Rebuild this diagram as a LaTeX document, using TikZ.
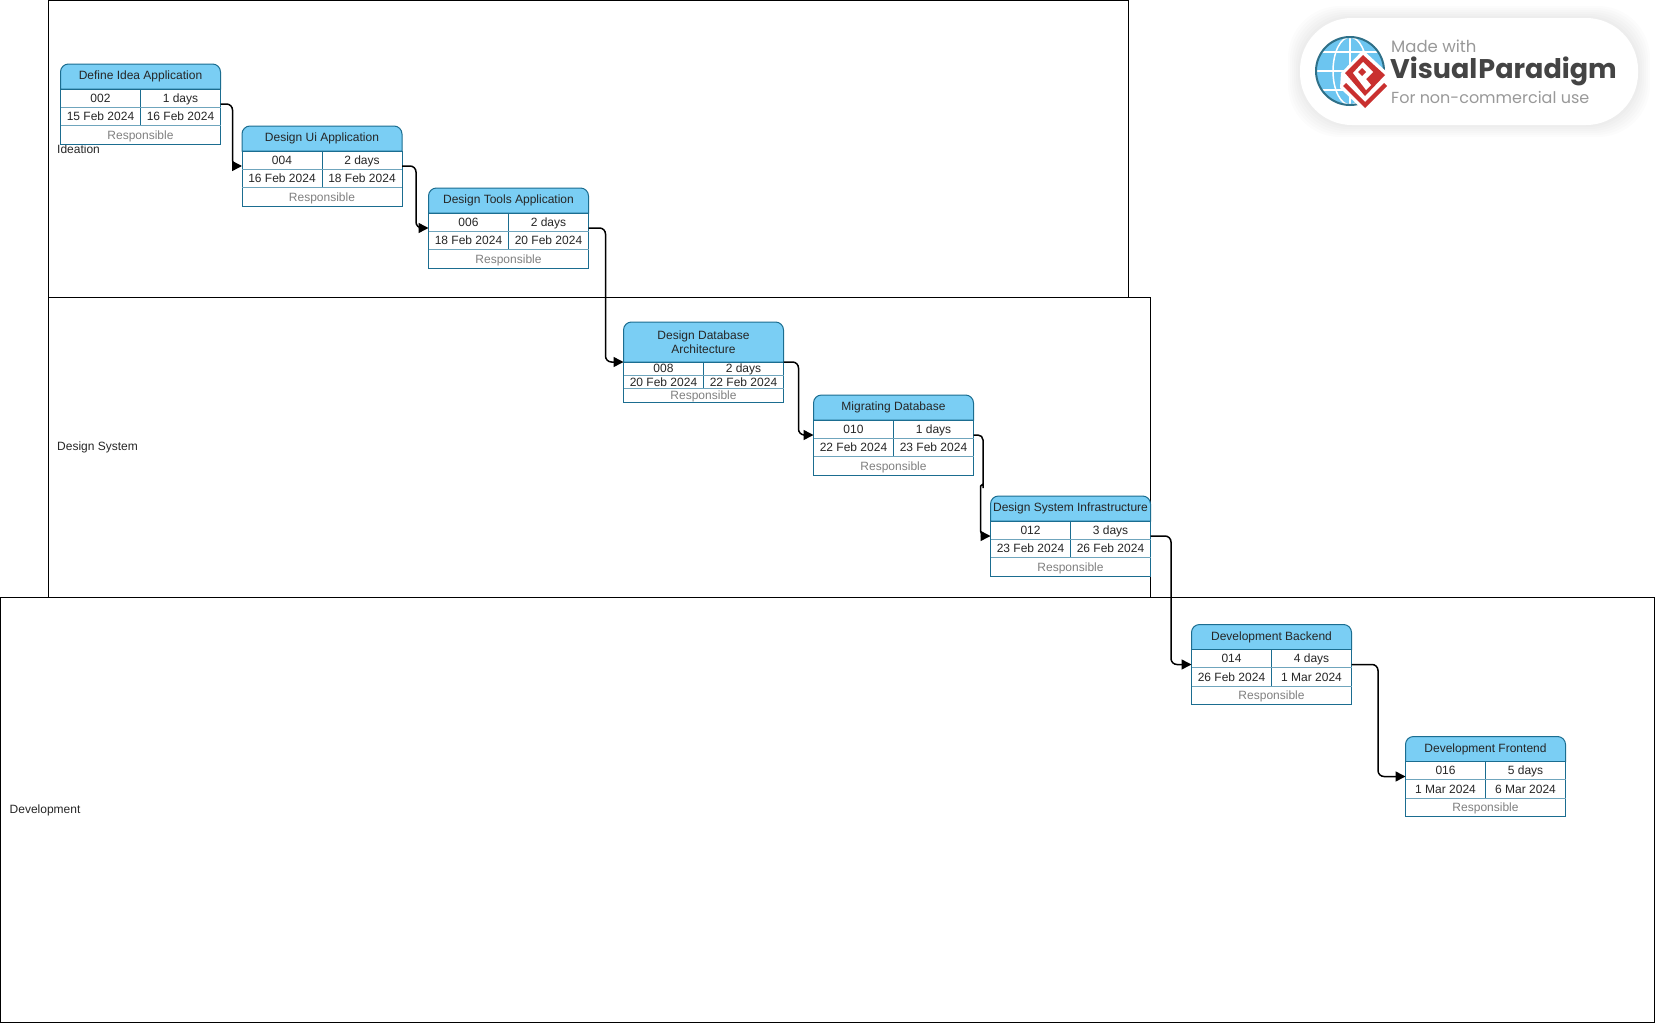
\documentclass[tikz,border=0pt]{standalone}
\usepackage{fontspec}
\setmainfont{Liberation Sans}
\newfontfamily\logofont{Poppins}
\usetikzlibrary{arrows.meta,positioning}
\definecolor{taskblue}{HTML}{7ACEF4}
\definecolor{taskline}{HTML}{1B6D90}
\definecolor{tasksep}{HTML}{6FA5BD}
\definecolor{logored}{HTML}{C9302F}
\definecolor{logoblue}{HTML}{6CC5F0}
\definecolor{logorim}{HTML}{2F7088}
\definecolor{logogray}{HTML}{999999}
\definecolor{logodark}{HTML}{444444}
\tikzset{
  lane/.style={draw=black,line width=1pt,inner sep=0pt,outer sep=0pt,anchor=north west},
  lanelabel/.style={inner sep=0pt,font=\fontsize{12}{14}\selectfont,text=black!85},
  taskbox/.style={inner sep=0pt,outer sep=0pt,minimum width=160pt,minimum height=80pt},
  taskhead/.style={draw=taskline,fill=taskblue,line width=1pt},
  tasktitle/.style={inner sep=0pt,align=center,font=\fontsize{12}{14}\selectfont,text=black!85},
  taskcell/.style={draw=taskline,fill=white,line width=1pt,inner sep=0pt,outer sep=0pt,minimum width=80pt,
    text height=8.6pt,text depth=0pt,font=\fontsize{12}{14}\selectfont,text=black!85},
  taskwho/.style={taskcell,minimum width=160pt,text=black!50},
  tasksplit/.style={tasksep,line width=1pt},
  flow/.style={->,draw=black,line width=1.5pt,rounded corners=6pt},
}
% one task: name, x, y, header height, title, id, duration, start, end
\newcommand{\tasknode}[9]{
  \pgfmathsetmacro{\rowh}{(80-#4)/3}
  \pgfmathsetmacro{\headmid}{#4/2}
  \node[taskbox] (#1) at (#2,#3) {};
  \draw[taskhead] (#1.north west) ++(0,#4) [rounded corners=8pt] -- (#1.north west) -- (#1.north east) [sharp corners] -- ++(0,#4) -- cycle;
  \node[tasktitle,below=\headmid pt of #1.north,anchor=center] (#1title) {#5};
  \node[taskcell,minimum height=\rowh pt,below right=#4pt and 0pt of #1.north west] (#1id) {#6};
  \node[taskcell,minimum height=\rowh pt,right=0pt of #1id] (#1dur) {#7};
  \node[taskcell,minimum height=\rowh pt,below=0pt of #1id] (#1start) {#8};
  \node[taskcell,minimum height=\rowh pt,right=0pt of #1start] (#1end) {#9};
  \node[taskwho,minimum height=\rowh pt,below right=0pt and 0pt of #1start.south west] (#1who) {Responsible};
  \draw[tasksplit] (#1id.south west) -- (#1dur.south east);
  \draw[tasksplit] (#1start.south west) -- (#1end.south east);
}
\begin{document}
\begin{tikzpicture}[x=1pt,y=-1pt,>={Stealth[length=10pt,width=10pt,inset=0pt]}]
  \useasboundingbox (0,0) rectangle (1655,1023);
  % lanes
  \node[lane,minimum width=1080pt,minimum height=297pt] (ideation) at (48.5,0.5) {};
  \node[lane,minimum width=1102pt,minimum height=300.5pt] (design) at (48.5,297) {};
  \node[lane,minimum width=1654pt,minimum height=425pt] (develop) at (0.5,597.5) {};
  \node[lanelabel,right=8.5pt of ideation.west] (ideationlabel) {Ideation};
  \node[lanelabel,right=8.5pt of design.west] (designlabel) {Design System};
  \node[lanelabel,right=9pt of develop.west] (developlabel) {Development};

  % tasks
  \tasknode{t1}{140.5}{104}{25}{Define Idea Application}{002}{1 days}{15 Feb 2024}{16 Feb 2024}
  \tasknode{t2}{322}{166}{25}{Design Ui Application}{004}{2 days}{16 Feb 2024}{18 Feb 2024}
  \tasknode{t3}{508.5}{228}{25}{Design Tools Application}{006}{2 days}{18 Feb 2024}{20 Feb 2024}
  \tasknode{t4}{703.5}{362}{40}{Design Database\\Architecture}{008}{2 days}{20 Feb 2024}{22 Feb 2024}
  \tasknode{t5}{893.5}{435}{25}{Migrating Database}{010}{1 days}{22 Feb 2024}{23 Feb 2024}
  \tasknode{t6}{1070.5}{536}{25}{Design System Infrastructure}{012}{3 days}{23 Feb 2024}{26 Feb 2024}
  \tasknode{t7}{1271.5}{664.5}{25}{Development Backend}{014}{4 days}{26 Feb 2024}{1 Mar 2024}
  \tasknode{t8}{1485.5}{776.5}{25}{Development Frontend}{016}{5 days}{1 Mar 2024}{6 Mar 2024}

  % connectors
  \draw[flow] (t1.east) -- ++(12,0) |- (t2.west);
  \draw[flow] (t2.east) -- ++(14,0) |- (t3.west);
  \draw[flow] (t3.east) -- ++(17,0) |- (t4.west);
  \draw[flow] (t4.east) -- ++(15,0) |- (t5.west);
  \draw[flow,rounded corners=5pt] (t5.east) -- ++(9.5,0) -- ++(0,48) [rounded corners=1.2pt] -- ++(0,2) -- ++(-2.5,0) -- ++(0,2) [rounded corners=5pt] |- (t6.west);
  \draw[flow] (t6.east) -- ++(20.5,0) |- (t7.west);
  \draw[flow] (t7.east) -- ++(26.5,0) |- (t8.west);

  % logo
  \foreach \s in {12,10,8,6,4,2}
    \fill[black,opacity=.012,rounded corners=52pt] (1300-\s,18-\s) rectangle (1638+\s,125+\s);
  \fill[white,rounded corners=52pt] (1300,18) rectangle (1638,125);
  \fill[logoblue] (1350,71) circle (34pt);
  \begin{scope}
    \clip (1350,71) circle (34pt);
    \draw[white,line width=1.5pt] (1350,36) -- (1350,106) (1316,71) -- (1386,71) (1316,52) -- (1386,52) (1316,90) -- (1386,90);
    \draw[white,line width=1.5pt] (1350,71) ellipse (17pt and 34pt);
  \end{scope}
  \draw[logorim,line width=2pt] (1350,71) circle (34pt);
  \fill[white] (1363,50) -- (1390,75) -- (1390,88) -- (1365,112) -- (1340,88) -- (1341,73) -- cycle;
  \fill[logored] (1343,86) -- (1365,108) -- (1387,86) -- (1384,83) -- (1365,102) -- (1346,83) -- cycle;
  \fill[logored] (1363,55) -- (1385,75) -- (1365,96) -- (1345,73) -- cycle;
  \fill[white] (1363,62) -- (1373,72) -- (1366,79) -- (1371,85) -- (1366,90) -- (1353,73) -- cycle;
  \fill[logored] (1362,68) -- (1366,72) -- (1362,76) -- (1358,72) -- cycle;
  \node[anchor=west,inner sep=0pt,text=logogray,font=\logofont\fontsize{16.5}{18}\selectfont] (logomade) at (1391,46) {Made with};
  \node[anchor=west,inner sep=0pt,text=logodark,font=\logofont\bfseries\fontsize{27}{30}\selectfont] (logoname) at (1390,71) {Visual\kern1pt Paradigm};
  \node[anchor=west,inner sep=0pt,text=logogray,font=\logofont\fontsize{16}{18}\selectfont] (logouse) at (1391,97) {For non-commercial use};
\end{tikzpicture}
\end{document}
